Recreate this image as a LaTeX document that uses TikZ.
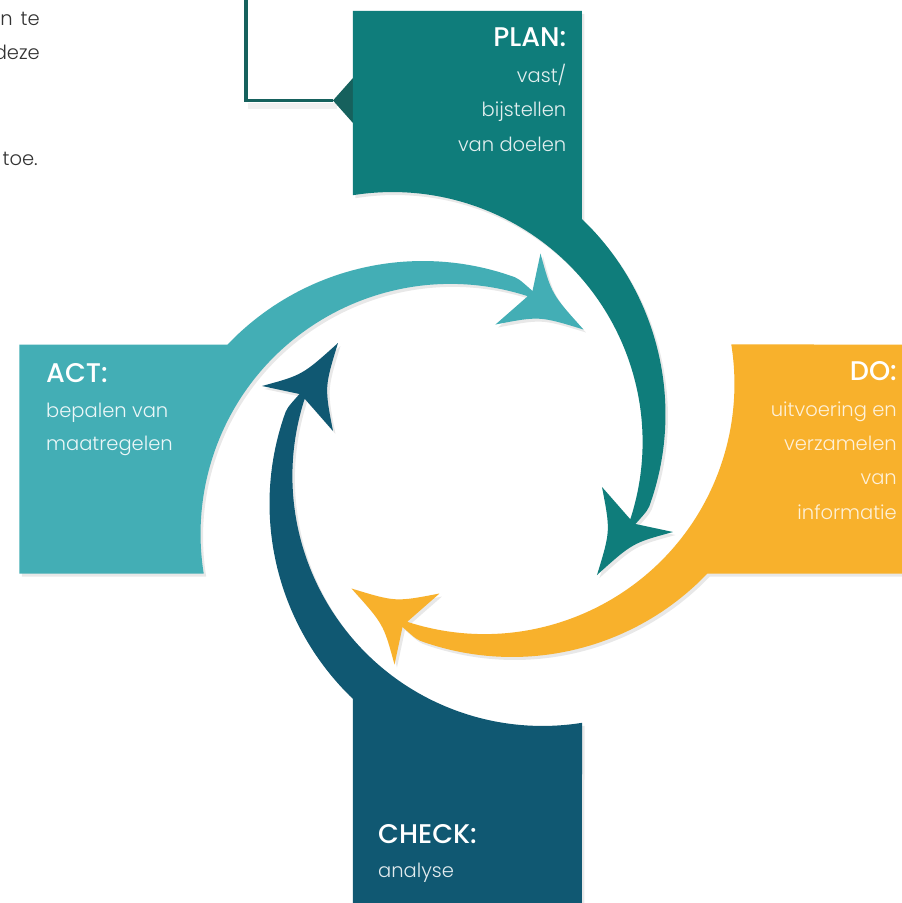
\documentclass[tikz,border=0pt]{standalone}
\usepackage{fontspec}
\setmainfont{Poppins}
\newfontfamily\lightfont{Poppins Light}
\newfontfamily\medfont{Poppins Medium}
\definecolor{tealc}{HTML}{0F7D7B}
\definecolor{ltealc}{HTML}{43AEB5}
\definecolor{yellc}{HTML}{F8B12C}
\definecolor{dbluec}{HTML}{105872}
\definecolor{callc}{HTML}{16615D}
\definecolor{paratext}{HTML}{333333}
\newcommand\pdcashape[2]{%
  \fill[#1,rotate=#2] (-114.5,448) -- (114.5,448) -- (114.5,239.9)
    arc[start angle=46.3, end angle=-19, radius=270]
    .. controls (180.6,-50.8) .. (168,-65) -- (205.5,-73) .. controls (165,-84) .. (129.5,-116)
    .. controls (143,-72) .. (134.5,-28) -- (162.8,-60.3)
    arc[start angle=-18, end angle=99.1, radius=250] -- cycle;}
\tikzset{
  hd/.style={font=\medfont\fontsize{27}{30}\selectfont, text=white, inner sep=0pt},
  bd/.style={font=\lightfont\fontsize{19.5}{30}\selectfont, inner sep=0pt},
  para/.style={font=\lightfont\fontsize{19.5}{30}\selectfont, text=paratext, inner sep=0pt, anchor=base east},
}
\begin{document}
\begin{tikzpicture}[x=1pt,y=1pt]
\useasboundingbox (-467.5,-444) rectangle (434.5,459);
\clip (-467.5,-444) rectangle (434.5,459);
\fill[white] (-467.5,-444) rectangle (434.5,459);
% paragraph fragments
\node[para] (p1) at (-427.5,433) {n\hspace{8pt}te};
\node[para] (p2) at (-427.5,399) {deze};
\node[para] (p3) at (-429.5,293) {toe.};
% callout box
\fill[black,opacity=0.06] (-219,356) rectangle (-130,350);
\draw[callc, line width=3.5pt] (-221.5,470) -- (-221.5,358.5) -- (-134.5,358.5);
\fill[callc] (-134.5,358.5) -- (-114.5,381) -- (-114.5,336) -- cycle;
% shadows
\foreach \r in {0,-90,-180,-270}{\pdcashape{black,opacity=0.09,shift={(2.5,-3)}}{\r}}
% shapes
\pdcashape{tealc}{0}
\pdcashape{yellc}{-90}
\pdcashape{dbluec}{-180}
\pdcashape{ltealc}{-270}
% PLAN
\node[hd,anchor=base east] (planh) at (99,412) {PLAN:};
\node[bd,anchor=base east,text=white!88!tealc] (plan1) at (99,376) {vast/};
\node[bd,anchor=base east,text=white!88!tealc] (plan2) at (99,342) {bijstellen};
\node[bd,anchor=base east,text=white!88!tealc] (plan3) at (99,307) {van doelen};
% DO
\node[hd,anchor=base east] (doh) at (429.5,79) {DO:};
\node[bd,anchor=base east,text=white!82!yellc] (do1) at (429.5,43) {uitvoering en};
\node[bd,anchor=base east,text=white!82!yellc] (do2) at (429.5,9) {verzamelen};
\node[bd,anchor=base east,text=white!82!yellc] (do3) at (429.5,-25) {van};
\node[bd,anchor=base east,text=white!82!yellc] (do4) at (429.5,-60) {informatie};
% ACT
\node[hd,anchor=base west] (acth) at (-421.5,77) {ACT:};
\node[bd,anchor=base west,text=white!90!ltealc] (act1) at (-421.5,42) {bepalen van};
\node[bd,anchor=base west,text=white!90!ltealc] (act2) at (-421.5,9) {maatregelen};
% CHECK
\node[hd,anchor=base west] (checkh) at (-89.5,-384) {CHECK:};
\node[bd,anchor=base west,text=white!88!dbluec] (check1) at (-89.5,-418) {analyse};
\end{tikzpicture}
\end{document}
